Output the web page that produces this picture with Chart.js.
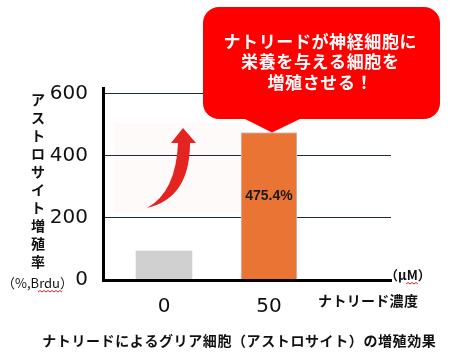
<!DOCTYPE html>
<html><head><meta charset="utf-8">
<script src="https://cdn.jsdelivr.net/npm/chart.js@4/dist/chart.umd.min.js"></script>
<style>html,body{margin:0;padding:0;background:#fff}canvas{display:block}</style>
</head><body>
<canvas id="c" width="470" height="356"></canvas>
<script>
const categories = ['0', '50'];
const values = [93, 475.4];
const valueLabels = ['', '475.4%'];
const yTicks = [0, 200, 400, 600];
const barColors = ['#d0d0d0', '#e97434'];
const yTitle = 'アストロサイト増殖率';
const yUnit = '（%,Brdu）';
const xUnit = '（μM）';
const xTitle = 'ナトリード濃度';
const chartTitle = 'ナトリードによるグリア細胞（アストロサイト）の増殖効果';
const calloutLines = ['ナトリードが神経細胞に', '栄養を与える細胞を', '増殖させる！'];

const JP = '"Noto Sans CJK JP", "Noto Sans", sans-serif';

function spaced(ctx, text, cx, y, sp) {
  const chars = Array.from(text);
  const ws = chars.map(c => ctx.measureText(c).width);
  const total = ws.reduce((a, b) => a + b, 0) + sp * (chars.length - 1);
  let x = cx - total / 2;
  ctx.textAlign = 'left';
  chars.forEach((c, i) => { ctx.fillText(c, x, y); x += ws[i] + sp; });
}
function wavy(ctx, x1, x2, y) {
  ctx.save();
  ctx.strokeStyle = '#e02020'; ctx.lineWidth = 1;
  ctx.beginPath();
  let up = true; ctx.moveTo(x1, y);
  for (let x = x1 + 2; x <= x2; x += 2) { ctx.lineTo(x, up ? y - 1.5 : y); up = !up; }
  ctx.stroke(); ctx.restore();
}

const deco = {
  id: 'deco',
  beforeDraw(chart) {
    const ctx = chart.ctx;
    ctx.save();
    ctx.fillStyle = '#fefafa';
    ctx.fillRect(114, 123, 127, 90);
    ctx.restore();
  },
  afterDatasetsDraw(chart) {
    const ctx = chart.ctx;
    const meta = chart.getDatasetMeta(0);
    ctx.save();
    ctx.fillStyle = '#1a1a1a';
    ctx.font = 'bold 14px "Liberation Sans", Arial, sans-serif';
    ctx.textAlign = 'center'; ctx.textBaseline = 'middle';
    meta.data.forEach((bar, i) => {
      if (!valueLabels[i]) return;
      const y = bar.y + (bar.base - bar.y) * 0.43;
      ctx.fillText(valueLabels[i], bar.x, y);
    });
    ctx.fillStyle = '#e42420';
    ctx.beginPath();
    ctx.moveTo(147, 208);
    ctx.quadraticCurveTo(176, 192, 178, 143);
    ctx.lineTo(171, 143);
    ctx.lineTo(183, 128);
    ctx.lineTo(196, 143);
    ctx.lineTo(190, 143);
    ctx.quadraticCurveTo(190, 198, 147, 208);
    ctx.closePath();
    ctx.fill();
    ctx.restore();
  },
  afterDraw(chart) {
    const ctx = chart.ctx;
    const meta = chart.getDatasetMeta(0);
    const bar = meta.data[1];
    ctx.save();
    ctx.fillStyle = '#ff0000';
    ctx.beginPath();
    ctx.roundRect(203, 7, 237, 112, 16);
    ctx.fill();
    ctx.beginPath();
    ctx.moveTo(243, 118);
    ctx.lineTo(302, 118);
    ctx.lineTo(bar.x + 3, bar.y);
    ctx.closePath();
    ctx.fill();
    ctx.fillStyle = '#ffffff';
    ctx.font = 'bold 17px ' + JP;
    ctx.textBaseline = 'middle';
    const ly = [42, 62, 83];
    calloutLines.forEach((t, i) => spaced(ctx, t, 320, ly[i], 0.6));

    ctx.fillStyle = '#111';
    ctx.font = 'bold 14px ' + JP;
    ctx.textAlign = 'center';
    Array.from(yTitle).forEach((c, i) => ctx.fillText(c, 38, 100 + i * 18));
    ctx.font = '13px ' + JP;
    ctx.textAlign = 'left';
    ctx.fillText(yUnit, 2, 283);
    wavy(ctx, 38, 62, 292);

    ctx.font = 'bold 13px ' + JP;
    ctx.fillText(xUnit, 385, 275);
    wavy(ctx, 406, 418, 284);
    ctx.font = 'bold 14px ' + JP;
    spaced(ctx, xTitle, 368, 301, 0.3);

    ctx.font = 'bold 14px ' + JP;
    spaced(ctx, chartTitle, 239, 341, 0.6);
    ctx.restore();
  }
};

new Chart(document.getElementById('c'), {
  type: 'bar',
  data: {
    datasets: [{
      data: values.map((v, i) => ({ x: i, y: v })),
      backgroundColor: barColors,
      borderColor: ['#d0d0d0', '#c8c8c8'],
      borderWidth: [0, 1],
      barThickness: 56
    }]
  },
  options: {
    responsive: false,
    animation: false,
    layout: { padding: { top: 88, right: 79, bottom: 36, left: 0 } },
    plugins: { legend: { display: false }, tooltip: { enabled: false } },
    scales: {
      x: {
        type: 'linear',
        min: -0.581, max: 2.162,
        offset: false,
        afterBuildTicks: s => { s.ticks = categories.map((c, i) => ({ value: i })); },
        afterFit: s => { s.height = 40; },
        grid: { display: false },
        border: { display: true, color: '#000', width: 3, z: 1 },
        ticks: {
          callback: (v, i) => categories[i],
          color: '#111',
          font: { family: '"DejaVu Sans", sans-serif', size: 20 },
          padding: 7,
          maxRotation: 0,
          autoSkip: false
        }
      },
      y: {
        min: 0, max: 619,
        afterBuildTicks: s => { s.ticks = yTicks.map(v => ({ value: v })); },
        afterFit: s => { s.width = 103; },
        grid: { color: '#1e2b3c', lineWidth: 1, drawTicks: false },
        border: { display: true, color: '#000', width: 3, z: 1 },
        ticks: {
          color: '#111',
          font: { family: '"DejaVu Sans", sans-serif', size: 20 },
          padding: 15
        }
      }
    }
  },
  plugins: [deco]
});
</script>
</body></html>
